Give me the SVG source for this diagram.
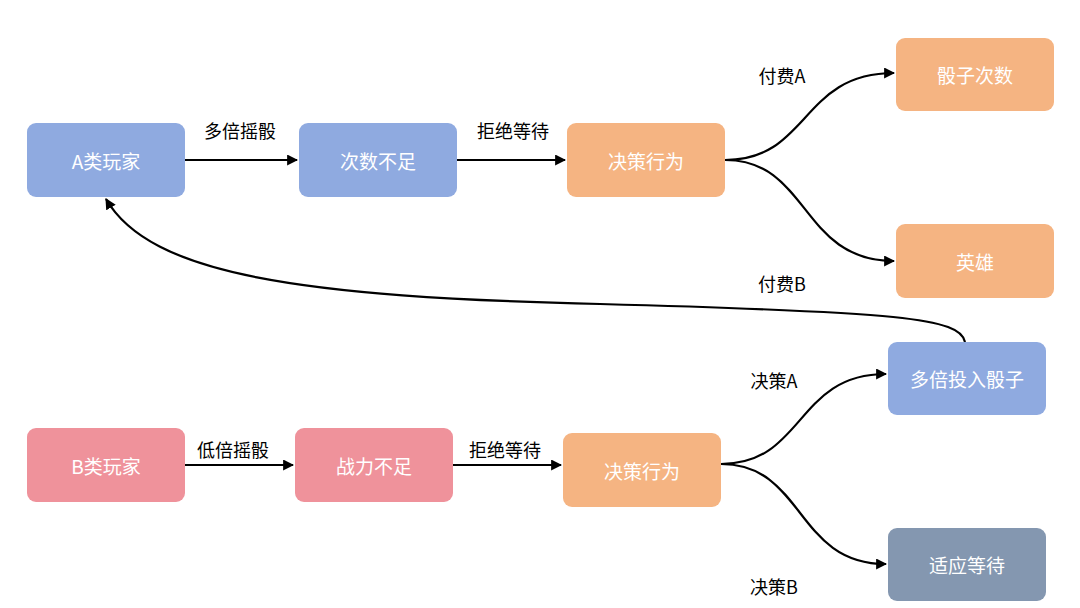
<svg xmlns="http://www.w3.org/2000/svg" width="1080" height="608" viewBox="0 0 1080 608">
<style>
.n{stroke:none}
.b{fill:#8FAAE0}.o{fill:#F5B482}.p{fill:#EF929B}.g{fill:#8497B0}
.t{fill:#fff;font-family:"Noto Sans CJK SC","Noto Sans",sans-serif;font-size:19px;text-anchor:middle;dominant-baseline:central}
.l{fill:#000;font-family:"Noto Sans CJK SC","Noto Sans",sans-serif;font-size:18px;text-anchor:middle;dominant-baseline:central}
.c{fill:none;stroke:#000;stroke-width:2.2;marker-end:url(#a)}
</style>
<defs><marker id="a" viewBox="0 0 10 10" refX="9" refY="5" markerWidth="5" markerHeight="5" orient="auto"><path d="M0,0L10,5L0,10z" fill="#000"/></marker></defs>
<rect width="1080" height="608" fill="#fff"/>
<g id="connectors">
<path class="c" d="M185,160H297"/>
<path class="c" d="M457,160H565"/>
<path class="c" d="M725,160C810,160 800,73 894,73"/>
<path class="c" d="M725,160C810,160 800,261 894,261"/>
<path class="c" d="M965,342C960,318 900,312 600,304C300,297 150,275 106,199"/>
<path class="c" d="M185,465H293"/>
<path class="c" d="M453,465H561"/>
<path class="c" d="M721,464C805,464 795,374 886,374"/>
<path class="c" d="M721,464C805,464 795,564 886,564"/>
<text class="l" x="240" y="130">多倍摇骰</text>
<text class="l" x="513" y="130">拒绝等待</text>
<text class="l" x="782" y="75">付费A</text>
<text class="l" x="782" y="283">付费B</text>
<text class="l" x="233" y="449">低倍摇骰</text>
<text class="l" x="505" y="449">拒绝等待</text>
<text class="l" x="774" y="380">决策A</text>
<text class="l" x="774" y="586">决策B</text>
</g>
<g id="nA"><rect class="b" x="27" y="123" width="158" height="74" rx="9"/><text class="t" x="106" y="160">A类玩家</text></g>
<g id="n1"><rect class="b" x="299" y="123" width="158" height="74" rx="9"/><text class="t" x="378" y="160">次数不足</text></g>
<g id="n2"><rect class="o" x="567" y="123" width="158" height="74" rx="9"/><text class="t" x="646" y="160">决策行为</text></g>
<g id="n3"><rect class="o" x="896" y="38" width="158" height="73" rx="9"/><text class="t" x="975" y="74">骰子次数</text></g>
<g id="n4"><rect class="o" x="896" y="224" width="158" height="74" rx="9"/><text class="t" x="975" y="261">英雄</text></g>
<g id="n5"><rect class="b" x="888" y="342" width="158" height="73" rx="9"/><text class="t" x="967" y="378">多倍投入骰子</text></g>
<g id="nB"><rect class="p" x="27" y="428" width="158" height="74" rx="9"/><text class="t" x="106" y="465">B类玩家</text></g>
<g id="n6"><rect class="p" x="295" y="428" width="158" height="74" rx="9"/><text class="t" x="374" y="465">战力不足</text></g>
<g id="n7"><rect class="o" x="563" y="433" width="158" height="74" rx="9"/><text class="t" x="642" y="470">决策行为</text></g>
<g id="n8"><rect class="g" x="888" y="528" width="158" height="73" rx="9"/><text class="t" x="967" y="564">适应等待</text></g>
</svg>
